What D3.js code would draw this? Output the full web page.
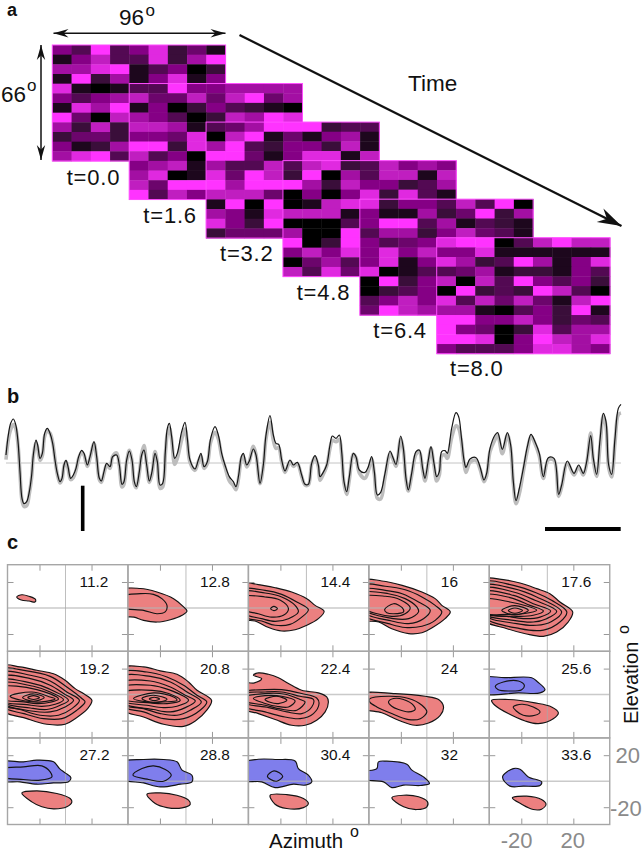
<!DOCTYPE html>
<html><head><meta charset="utf-8">
<script src="https://cdn.jsdelivr.net/npm/d3@7/dist/d3.min.js"></script>
<style>html,body{margin:0;padding:0;background:#fff}svg{display:block}text{font-family:"Liberation Sans",Arial,sans-serif;fill:#111}</style>
</head><body><svg id="c" width="644" height="853"></svg>
<script>
// ---------- panel a: stimulus frames (0 dark .. 9 bright, null = covered by next frame)
const frameTimes=["t=0.0","t=1.6","t=3.2","t=4.8","t=6.4","t=8.0"];
const _=null;
const frame0=[[5,3,9,3,5,8,2,4,1],[1,5,7,3,3,8,2,6,9],[6,6,8,9,1,3,5,0,2],[1,9,2,6,1,5,8,1,5],[8,1,0,1,_,_,_,_,_],[5,3,5,6,_,_,_,_,_],[1,8,6,9,_,_,_,_,_],[9,4,0,7,_,_,_,_,_],[6,2,7,2,_,_,_,_,_],[2,4,4,2,_,_,_,_,_],[5,1,2,6,_,_,_,_,_],[6,8,9,3,_,_,_,_,_]];
const frame1=[[3,3,9,5,5,6,6,6,6],[7,4,4,7,4,7,9,4,6],[1,5,0,2,5,3,2,1,0],[6,5,3,0,2,7,6,9,8],[7,7,6,1,_,_,_,_,_],[5,5,4,8,_,_,_,_,_],[9,9,2,8,_,_,_,_,_],[7,3,5,0,_,_,_,_,_],[5,6,7,1,_,_,_,_,_],[6,8,0,1,_,_,_,_,_],[7,4,9,9,_,_,_,_,_],[9,3,7,5,_,_,_,_,_]];
const frame2=[[3,4,6,9,9,9,2,3,3],[0,7,9,1,4,1,5,6,1],[6,9,3,2,5,5,2,7,1],[9,9,4,1,5,8,8,1,7],[6,3,3,7,_,_,_,_,_],[8,4,9,7,_,_,_,_,_],[9,6,9,9,_,_,_,_,_],[7,7,7,4,_,_,_,_,_],[1,9,0,9,_,_,_,_,_],[6,5,1,8,_,_,_,_,_],[8,5,2,9,_,_,_,_,_],[2,4,4,4,_,_,_,_,_]];
const frame3=[[3,7,8,2,3,7,5,6,5],[2,9,0,6,3,7,7,1,7],[9,6,2,7,5,5,2,3,6],[0,5,0,5,8,2,8,3,1],[0,1,7,8,_,_,_,_,_],[7,7,7,1,_,_,_,_,_],[0,0,0,3,_,_,_,_,_],[6,0,0,9,_,_,_,_,_],[9,0,2,9,_,_,_,_,_],[5,7,5,8,_,_,_,_,_],[0,4,6,3,_,_,_,_,_],[7,3,8,4,_,_,_,_,_]];
const frame4=[[8,2,5,5,3,7,3,9,0],[5,1,1,6,2,4,9,2,6],[5,9,9,3,6,1,3,2,1],[3,6,6,2,5,7,4,3,1],[5,3,4,5,_,_,_,_,_],[5,8,5,7,_,_,_,_,_],[5,8,1,5,_,_,_,_,_],[8,0,1,3,_,_,_,_,_],[0,9,2,5,_,_,_,_,_],[0,2,3,5,_,_,_,_,_],[3,5,7,5,_,_,_,_,_],[4,9,7,6,_,_,_,_,_]];
const frame5=[[8,9,9,0,3,7,9,7,7],[5,5,8,1,1,1,1,1,1],[8,6,2,3,9,6,1,5,8],[3,4,6,1,2,2,1,5,3],[7,0,7,3,9,5,3,5,2],[0,9,2,3,2,9,7,3,0],[8,3,7,4,7,4,1,7,9],[6,6,1,0,3,5,2,9,1],[9,9,5,5,7,5,2,4,3],[9,5,4,0,2,8,3,6,6],[9,9,8,0,5,9,7,6,8],[5,3,3,3,5,8,8,6,5]];
const frames=[frame0,frame1,frame2,frame3,frame4,frame5];

// ---------- panel b: response traces (time, model black, measured grey; arbitrary units)
const traceTime=[18,25,32,40,47,54,60,66,72,80,88,95,100,108,113,120,127,134,142,150,158,165,172,180,186,192,198,204,212,220,228,236,245,252,262,270,282,290,298,304,312,320,330,338,350,358,366,372,380,388,396,403,409,418,425,432,440,448,456,465,472,480,488,496,502,508,515,524,532,545,555,562,570,585,595,603,612,622,632,645,655,665,675,688,700,708,716,724,730,740,748,760,768,780,790,798,810,820,828,836,845,855,870,880,892,905,915,925,935,945,955,960,968,980,990,997,1008,1018,1025,1032,1040,1048,1060,1068,1078,1095,1105,1115,1123,1132,1142,1155,1170,1178,1188,1202,1210,1218,1225,1235,1248,1258,1268,1275,1285,1293,1302,1310,1318,1325,1335,1342,1355,1368,1376,1384,1392,1398,1410,1428,1440,1452,1460,1470,1485,1493,1507,1522,1532,1540,1548,1558,1570,1582,1593,1605,1618,1630,1645,1662,1676,1685,1702,1722,1736,1750,1760,1772,1780,1790,1800,1810,1818,1826,1835,1845,1855,1863];
const traceModel=[24,84,119,132,116,64,-26,-106,-122,-116,-86,-36,24,69,54,14,29,89,104,89,59,9,-31,-56,-46,-6,8,-11,-46,-36,-16,19,38,29,-6,19,64,19,-46,-54,-26,-1,-11,19,24,-6,-64,-56,9,36,9,-56,-71,-26,24,39,-6,-54,-26,29,4,-66,-61,34,104,119,79,14,29,94,122,74,9,-18,9,29,-11,4,74,109,84,29,-6,-41,-56,-71,-36,19,29,-6,6,42,24,-61,-6,84,142,84,59,56,9,-24,9,-6,2,-36,-64,-64,-1,22,-6,-41,-31,-6,54,81,74,84,34,-56,-86,-41,29,19,-21,-28,-11,19,-26,-96,-88,-31,36,19,-4,81,44,-46,-81,-31,34,39,-16,-46,9,49,-1,-41,-26,34,37,29,104,151,139,79,9,-13,12,16,-11,-51,-31,44,84,91,41,91,54,-56,-113,-76,-16,49,86,64,29,-41,16,14,-94,-66,6,-31,-6,-31,4,82,14,-34,69,149,124,-6,-34,74,164,176];
const traceMeasured=[10,70,100,115,105,55,-30,-112,-130,-128,-92,-42,20,60,45,8,22,80,96,90,62,12,-34,-60,-50,-10,4,-16,-50,-44,-22,14,32,24,-10,14,58,14,-50,-58,-32,-6,-16,20,30,-10,-72,-64,4,38,6,-64,-74,-30,28,52,-6,-58,-34,34,2,-76,-72,26,88,105,70,-4,14,70,102,62,2,-22,4,20,-16,-2,62,92,72,20,-12,-54,-68,-80,-44,12,22,-12,4,50,26,-62,-10,72,122,68,44,46,4,-28,4,-10,-2,-40,-66,-66,-4,18,-12,-52,-38,-10,44,68,64,70,26,-62,-94,-50,26,16,-30,-46,-24,12,-34,-106,-108,-44,28,14,-10,72,38,-52,-84,-38,26,34,-22,-54,2,44,-8,-54,-36,22,24,14,76,112,104,66,0,-28,2,8,-18,-56,-38,34,70,84,28,84,44,-62,-122,-92,-26,38,80,58,20,-46,10,8,-100,-72,0,-36,-12,-36,-2,90,6,-40,50,142,110,-14,-42,60,145,150];

// ---------- panel c: contours per time lag, [sign, [[azimuth,elevation],...]]
const azTicks=[-20,20], elTicks=[-20,20];
const lagLabels=["11.2","12.8","14.4","16","17.6","19.2","20.8","22.4","24","25.6","27.2","28.8","30.4","32","33.6"];
const lag112=[["+",[[-37.5,8.5],[-33.5,10.2],[-28,9],[-23,6.6],[-23.5,4.6],[-28,5.4],[-34,6.2]]]];
const lag128=[["+",[[-50,13.6],[-35,15],[-22.3,12.3],[-9.5,7.2],[-1.8,.8],[.8,-2.3],[-3,-5.6],[-12,-9],[-22.3,-10.8],[-32.6,-9.5],[-40,-7],[-50,-5.6]]],
 ["+",[[-50,8.5],[-35,11],[-25,10.5],[-18.5,7.2],[-14.6,2],[-16,-3],[-22.3,-4.4],[-32.6,-1.8],[-50,.8]]]];
const lag144=[["+",[[-50,18.7],[-37,18],[-24,15.6],[-11.3,12.3],[.3,7.2],[6.7,2],[13.6,-2.6],[9.2,-8.2],[.3,-13.3],[-8.7,-16.7],[-19,-17.7],[-29,-15],[-39.5,-10],[-50,-8.2]]],
 ["+",[[-50,14],[-31.8,13.6],[-19,10.5],[-7.4,4.6],[1.5,-1.3],[-3.6,-7],[-12.6,-12.6],[-24,-13.3],[-34.4,-10],[-50,-5.6]]],
 ["+",[[-50,12.3],[-31.8,11.5],[-19,8.5],[-8.7,2],[-6.2,-3],[-13.8,-8.2],[-24,-10.3],[-34.4,-8.2],[-50,-3]]],
 ["+",[[-50,8.5],[-31.8,8.5],[-20,6],[-13.8,-.5],[-17.7,-5.6],[-26.7,-7],[-37,-4.4],[-50,-.5]]],
 ["+",[[-27.5,-.5],[-25,1.2],[-22.3,-.5],[-25,-2]]]];
const lag16=[["+",[[-50,21],[-34.6,20.8],[-19,17.4],[-3.8,12.3],[6.4,7.2],[11.5,2],[18,-3],[14,-8.2],[5,-14.6],[-3.8,-19],[-14,-19.7],[-27,-16],[-37,-10.8],[-50,-8.2]]],
 ["+",[[-50,17.4],[-32,16.7],[-16.7,14],[-3.8,8.5],[6.4,2],[11.5,-3],[6.4,-9.5],[-3.8,-14],[-16.7,-15],[-29.5,-12],[-50,-4.9]]],
 ["+",[[-50,14],[-32,13.6],[-19,11],[-6.4,4.6],[2.6,-1.8],[-2.6,-8.2],[-14,-12],[-27,-10],[-50,-2.3]]],
 ["+",[[-50,11.5],[-29.5,11],[-16.7,7.2],[-7.7,.8],[-6.4,-3],[-14,-8.2],[-25.6,-8.2],[-50,-.5]]],
 ["+",[[-50,8.5],[-32,9],[-20.5,6.4],[-12.8,.2],[-16.7,-4.4],[-27,-6.4],[-50,.8]]],
 ["+",[[-32.5,-1.3],[-25.6,3.3],[-19,.2],[-17.9,-3],[-25.6,-4.4],[-30.8,-3.6]]]];
const lag176=[["+",[[-50,21.8],[-33.8,21.8],[-21,19.2],[-8.2,14.9],[2,11],[9.7,4.6],[19.5,-3],[16,-10.8],[7.2,-18.5],[-3,-21.8],[-16,-20],[-31,-15.9],[-50,-8.2]]],
 ["+",[[-50,19.5],[-26,17.4],[-8.2,11.5],[3.3,5.9],[15,-3],[9.7,-10.8],[-3,-17],[-21,-15.9],[-50,-5.6]]],
 ["+",[[-50,17],[-26,14.9],[-8.2,8.5],[11,-3],[3.3,-10.3],[-8.2,-13.3],[-23.6,-12],[-50,-4.4]]],
 ["+",[[-50,14.9],[-26,12.3],[-9.5,5.9],[7.2,-2.6],[-.5,-8.2],[-10.8,-10.8],[-26,-9.5],[-50,-3.6]]],
 ["+",[[-50,12.3],[-26,9.7],[-10.8,3.3],[2.6,-2.3],[-5.6,-7],[-18.5,-8.2],[-31,-6.4],[-50,-3]]],
 ["+",[[-50,9.7],[-28.7,8],[-13.3,2],[-3,-2.3],[-10.8,-5.6],[-23.6,-6.4],[-50,-3.3]]],
 ["+",[[-50,6.4],[-28.7,4.6],[-8.2,-1.8],[-18.5,-4.4],[-31,-4.9],[-50,-3.6]]],
 ["+",[[-35,-1.8],[-25,1.8],[-14.6,-1.8],[-25,-5.4]]],
 ["+",[[-30,-2],[-25,0],[-19,-2],[-25,-4]]]];
const lag192=[["+",[[-50,21.8],[-35,21.3],[-22,18.7],[-9.2,16],[-.3,11],[7.4,4.6],[13.8,.8],[20.3,-4.4],[17,-10.8],[7.4,-18.5],[-.3,-22.8],[-14.4,-22.8],[-29.7,-18.5],[-50,-10.8]]],
 ["+",[[-50,19.2],[-29.7,18.2],[-11.8,14],[1,5.9],[12.6,-3],[15,-5.6],[8.7,-12],[-2.8,-18.5],[-16.9,-18.5],[-32,-14.6],[-50,-8.2]]],
 ["+",[[-50,16.7],[-27,14.9],[-11.8,10.5],[1,2],[10.7,-4.4],[4.9,-10.8],[-5.4,-15.9],[-19.5,-15.9],[-34.9,-11.5],[-50,-6.9]]],
 ["+",[[-50,13.6],[-27,12.3],[-11.8,7.2],[-1.5,.8],[6.2,-4.4],[-.3,-9.5],[-11.8,-13.3],[-24.6,-12.8],[-50,-5.6]]],
 ["+",[[-50,11],[-27,9],[-13,4.6],[2.3,-4.4],[-4.1,-8.2],[-14.4,-11.5],[-27,-10.3],[-50,-4.9]]],
 ["+",[[-50,8.5],[-24.6,6.4],[-11.8,2],[-1.5,-3.9],[-8,-7.4],[-18.2,-9],[-29.7,-7.7],[-50,-4.4]]],
 ["+",[[-50,5.4],[-22,3.8],[-5.4,-3.3],[-11.8,-5.9],[-22,-6.9],[-32,-5.6],[-50,-3]]],
 ["+",[[-42.6,-1.3],[-25.9,2],[-11.8,-1.8],[-8,-3.3],[-18.2,-5.6],[-31,-4.9]]],
 ["+",[[-33,-2.3],[-24.6,.5],[-16.4,-2.3],[-24.6,-5.1]]],
 ["+",[[-29,-2.3],[-24.6,-.8],[-20,-2.3],[-24.6,-3.8]]]];
const lag208=[["+",[[-50,19.9],[-32.6,21.3],[-19.7,18.2],[-6.9,15.6],[2,9.7],[8.5,3.3],[19.7,-4.4],[16,-12],[7.2,-20.3],[-1.8,-24.4],[-17.2,-22.8],[-32.6,-17.2],[-50,-10.8]]],
 ["+",[[-50,16.7],[-30,17.4],[-14.6,13.6],[-1.8,7.2],[8.5,-.5],[16,-5.6],[10.9,-12],[-1.8,-18.5],[-17.2,-18.5],[-32.6,-13.3],[-50,-8.2]]],
 ["+",[[-50,13.6],[-27.4,14],[-12,9.7],[.8,2],[11.8,-5.6],[3.3,-12],[-6.9,-15.9],[-19.7,-14.6],[-32.6,-10.8],[-50,-6.9]]],
 ["+",[[-50,9],[-27.4,10.5],[-12,5.9],[-.5,-.5],[7.2,-4.9],[-.5,-10],[-12,-13.3],[-24.9,-11.5],[-50,-5.6]]],
 ["+",[[-50,5.4],[-27.4,7.2],[-13.3,3.8],[2,-4.4],[-6.9,-9],[-17.2,-10],[-30,-8.2],[-50,-4.4]]],
 ["+",[[-50,1.3],[-26,3.3],[-13.3,.8],[-4.4,-4.4],[-14.6,-6.9],[-27.4,-6.4],[-50,-3]]],
 ["+",[[-40.3,-3],[-24.9,1.3],[-9.5,-1.8],[-6.9,-4.4],[-17.2,-5.6],[-30,-5.6]]],
 ["+",[[-33.8,-3],[-24.9,-.5],[-14.6,-3.6],[-24.9,-6.2]]],
 ["+",[[-28.2,-3.3],[-24.4,-2],[-20.3,-3.3],[-24.4,-4.6]]]];
const lag224=[["+",[[-50,8.5],[-40,9],[-34.4,12.3],[-40.8,14.9],[-36.9,16.7],[-29.2,15.6],[-21.5,13],[-13.8,8.5],[-3.6,3.3],[9.2,1.3],[15.6,-1.8],[16.9,-5.6],[14.4,-13.3],[7.9,-19.7],[-1,-23.6],[-11.3,-23.6],[-24,-19.2],[-36.9,-14.6],[-50,-10]]],
 ["+",[[-50,1.3],[-31.8,3.8],[-19,3.8],[-3.6,.8],[7.9,-2.6],[9.7,-6.9],[5.4,-14.6],[-4.9,-18.5],[-19,-16.7],[-31.8,-13.3],[-50,-8.2]]],
 ["+",[[-50,.3],[-31.8,2],[-19,2],[-4.9,-1.3],[5.4,-3.8],[4.1,-9.5],[-3.6,-14.6],[-15,-13.3],[-29,-10],[-50,-5.6]]],
 ["+",[[-50,-2.3],[-31.8,.8],[-16.4,.3],[-4.9,-3.8],[-1,-5.6],[-7.4,-12],[-17.7,-11.5],[-31.8,-8.2],[-50,-4.5]]],
 ["+",[[-40.8,-3],[-31.8,-.8],[-19,-1.3],[-8.7,-4.9],[-13.8,-9.5],[-22.8,-9],[-33,-6.4]]],
 ["+",[[-31.8,-3.8],[-22.8,-1.3],[-15,-4.4],[-21.5,-6.9],[-28,-5.9]]]];
const lag24=[["+",[[-50,.3],[-24.4,.8],[-1.3,-1.3],[9,-3.8],[12.8,-9.5],[10.3,-15.9],[1.3,-21.8],[-9,-23.6],[-21.8,-19.7],[-34.6,-14],[-50,-10]]],
 ["+",[[-44,-3.3],[-29.5,-1.3],[-14,-3],[-3.8,-8.2],[0,-13.3],[-5,-18.5],[-14,-19.2],[-27,-14.6],[-38.5,-9.5],[-44,-5.6]]],
 ["+",[[-29.5,-5.6],[-25.6,-3],[-18,-3.8],[-10.3,-8.2],[-9,-11.5],[-14,-13.3],[-21.8,-11.5],[-27,-9]]]];
const lag256=[["-",[[-50,12.8],[-32.6,13],[-12,13],[-7.4,9.7],[-1.8,3.8],[-5.6,1.3],[-22.3,1.3],[-50,1.3]]],
 ["-",[[-40,6.4],[-33.8,9.7],[-22.3,10.5],[-17.7,7.2],[-19.7,3.8],[-30,2.8],[-37.7,3.8]]],
 ["+",[[-42.8,-4.4],[-30,-3.8],[-9.5,-6.4],[3.3,-9.5],[8.5,-14],[4.6,-18.5],[-7,-22.3],[-17,-20.3],[-30,-14.6],[-40.3,-8.2]]],
 ["+",[[-26.2,-9.5],[-19.7,-7.4],[-10.8,-9.5],[-5.6,-13.3],[-9.5,-15.9],[-18.5,-15.9],[-23.6,-12.8]]]];
const lag272=[["-",[[-50,14.4],[-32.3,14.9],[-22,16.2],[-9.2,14.9],[-4.6,9.7],[-.3,6.4],[4.1,2.8],[2.3,-.5],[-9.2,-1.3],[-22,-2.3],[-35,-.5],[-50,.8]]],
 ["-",[[-50,9],[-32.3,11],[-18.2,11.8],[-11.8,7.2],[-10.5,3.3],[-19.5,.8],[-32.3,1.3],[-50,3.8]]],
 ["+",[[-33.6,-9],[-22,-7.4],[-6.7,-9.5],[3.6,-13.3],[4.9,-15.9],[1,-19.7],[-9.2,-21.3],[-18.2,-19.7],[-25.9,-15.9]]]];
const lag288=[["-",[[-50,14.4],[-32.6,16.7],[-17.2,16.7],[-6.9,14.9],[-3,8.5],[4.6,4.6],[4.6,-.5],[-4.4,-2.3],[-19.7,-4.4],[-32.6,-1.3],[-50,2]]],
 ["-",[[-40.8,4.6],[-33.8,9.7],[-24.9,11.8],[-15.9,9],[-11.3,4.6],[-17.2,0],[-28.7,1.3]]],
 ["+",[[-30,-10],[-19.7,-9],[-6.9,-10.8],[2,-14.6],[3.3,-17.7],[-3,-20.5],[-14.6,-20.3],[-23.6,-17.2]]]];
const lag304=[["-",[[-50,13.6],[-37,16.9],[-22.8,16.7],[-8.7,15.6],[-6.2,9.7],[1.5,4.6],[4.1,-.5],[-1,-3],[-10,-2.3],[-24.1,-4.9],[-34.4,-.5],[-50,.8]]],
 ["-",[[-30,3.8],[-24.9,7.9],[-18.2,3.8],[-22.8,0],[-27.4,1.3]]],
 ["+",[[-27.9,-10.8],[-15.1,-10.3],[-2.3,-13.3],[1.5,-17.2],[-2.3,-20.3],[-15.1,-21],[-24.1,-17.7]]]];
const lag32=[["-",[[-50,6.7],[-38.5,9.7],[-37.2,14.9],[-30.8,15.4],[-15.4,13],[-11.5,8.5],[-2.6,3.3],[2,-1.8],[-5.1,-3.3],[-17.9,-3],[-26.9,-4.9],[-33.3,-.5],[-50,2]]],
 ["+",[[-26.9,-12.6],[-17.9,-10.8],[-6.4,-12],[.5,-15.9],[0,-19.7],[-7.7,-21.8],[-17.9,-19.7]]]];
const lag336=[["-",[[-34.4,3.3],[-26.2,9.7],[-21,9.2],[-14.6,3.3],[-4.4,-.5],[-5.6,-3.3],[-18.5,-3.8],[-28.7,-3.8]]],
 ["+",[[-26.9,-12.8],[-15.9,-11.5],[-4.4,-14.1],[-1,-17.7],[-4.4,-21.5],[-10.8,-21.8],[-19.7,-17.7]]]];
const lagContours=[lag112,lag128,lag144,lag16,lag176,lag192,lag208,lag224,lag24,lag256,lag272,lag288,lag304,lag32,lag336];

// ---------- drawing
const svg=d3.select("#c");
const txt=(x,y,s,size,o={})=>svg.append("text").attr("x",x).attr("y",y).attr("font-size",size).attr("font-weight",o.w||null).attr("fill",o.f||"#111").attr("letter-spacing",o.ls||null).attr("transform",o.t||null).style("fill",o.f||"#111").text(s);

// panel a
const heat=d3.scaleLinear().domain([0,2,5,7,9]).range(["#000000","#3a0e3a","#850085","#c01ec0","#ff33ff"]);
const tIndex=d3.scaleLinear().domain([0,5]);
const fx=tIndex.copy().range([52.3,436.7]), fy=tIndex.copy().range([45,237.7]);
const colB=d3.scaleBand().domain(d3.range(9)).range([0,173.3]);
const rowB=d3.scaleBand().domain(d3.range(12)).range([0,116]);
frames.forEach((fr,i)=>{
  const g=svg.append("g").attr("transform",`translate(${fx(i)},${fy(i)})`);
  g.selectAll("g").data(fr).join("g").attr("transform",(d,r)=>`translate(0,${rowB(r)})`)
   .selectAll("rect").data(d=>d).join("rect").filter(d=>d!==null)
   .attr("x",(d,c)=>colB(c)).attr("width",colB.bandwidth()+.4).attr("height",rowB.bandwidth()+.4)
   .attr("fill",d=>heat(d));
  g.append("rect").attr("width",173.3).attr("height",116).attr("fill","none").attr("stroke","#ff4dff").attr("stroke-width",1);
});
const labelX=tIndex.copy().range([66.7,450]), labelY=tIndex.copy().range([185,376]);
frameTimes.forEach((s,i)=>txt(labelX(i),labelY(i),s,22,{ls:"0.8px"}));

function arrow(x1,y1,x2,y2,w,len,hw,both){
  svg.append("line").attr("x1",x1).attr("y1",y1).attr("x2",x2).attr("y2",y2).attr("stroke","#111").attr("stroke-width",w);
  const head=(x,y,a)=>svg.append("path").attr("d",`M0,0L${-len},${-hw}L${-len*.68},0L${-len},${hw}Z`).attr("transform",`translate(${x},${y}) rotate(${a})`).attr("fill","#111");
  const a=Math.atan2(y2-y1,x2-x1)*180/Math.PI;
  head(x2,y2,a); if(both) head(x1,y1,a+180);
}
arrow(53.5,33.3,225.5,33.3,1.5,15,4.2,true);
arrow(41,45,41,160,1.5,15,4.2,true);
arrow(239.5,35,621.5,226,2.4,24,7.5,false);
txt(7,16.4,"a",18,{w:"bold"});
txt(119,25,"96",22.5); txt(145.5,15.5,"o",17);
txt(1,102,"66",22.5); txt(27,91,"o",17);
txt(408,91,"Time",22.5);

// panel b
const tx=d3.scaleLinear().domain([0,1932]).range([0,644]);
const ty=d3.scaleLinear().domain([-150,180]).range([513,403]);
txt(7,403,"b",20,{w:"bold"});
svg.append("line").attr("x1",tx(18)).attr("x2",tx(1863)).attr("y1",ty(0)).attr("y2",ty(0)).attr("stroke","#c4c4c4").attr("stroke-width",1);
const line=d3.line().x((d,i)=>tx(traceTime[i])).y(d=>ty(d)).curve(d3.curveCatmullRom.alpha(.5));
svg.append("path").attr("d",line(traceMeasured)).attr("fill","none").attr("stroke","#bdbdbd").attr("stroke-width",3.6).attr("stroke-linejoin","round");
svg.append("path").attr("d",line(traceModel)).attr("fill","none").attr("stroke","#161616").attr("stroke-width",1.2);
svg.append("line").attr("x1",82.7).attr("x2",82.7).attr("y1",485.7).attr("y2",531).attr("stroke","#000").attr("stroke-width",3.6);
svg.append("line").attr("x1",545).attr("x2",620.7).attr("y1",529).attr("y2",529).attr("stroke","#000").attr("stroke-width",4);

// panel c
txt(7,549,"c",20,{w:"bold"});
const panelW=120.45, panelH=86.6, gridL=7.5, gridT=564.7;
const az=d3.scaleLinear().domain([-44.6,48]).range([0,panelW]);
const el=d3.scaleLinear().domain([-33.3,33.3]).range([panelH,0]);
const fillOf=d3.scaleOrdinal().domain(["+","-"]).range(["#ec8080","#7f7eec"]);
const closed=d3.line().x(d=>az(d[0])).y(d=>el(d[1])).curve(d3.curveCatmullRomClosed.alpha(.5));
const defs=svg.append("defs");
defs.append("clipPath").attr("id","pc").append("rect").attr("width",panelW).attr("height",panelH);
lagContours.forEach((cs,i)=>{
  const col=i%5,row=Math.floor(i/5);
  const g=svg.append("g").attr("transform",`translate(${gridL+col*panelW},${gridT+row*panelH})`);
  const inner=g.append("g").attr("clip-path","url(#pc)");
  inner.selectAll("path.f").data(cs).join("path").attr("class","f").attr("d",d=>closed(d[1])).attr("fill",d=>fillOf(d[0]));
  inner.append("line").attr("x1",0).attr("x2",panelW).attr("y1",el(0)).attr("y2",el(0)).attr("stroke","#b4b4b4").attr("stroke-width",1.5).attr("opacity",.7);
  inner.append("line").attr("x1",az(0)).attr("x2",az(0)).attr("y1",0).attr("y2",panelH).attr("stroke","#a8a8a8").attr("stroke-width",1).attr("opacity",.75);
  inner.selectAll("path.s").data(cs).join("path").attr("class","s").attr("d",d=>closed(d[1])).attr("fill","none").attr("stroke","#141414").attr("stroke-width",1.15);
  const ax=(gen,tr)=>{const a=g.append("g").attr("transform",tr).call(gen.tickSize(-6).tickFormat(""));a.select(".domain").remove();a.selectAll("line").attr("stroke","#999").attr("stroke-width",1);};
  ax(d3.axisTop(az).tickValues(azTicks),"translate(0,0)");
  ax(d3.axisBottom(az).tickValues(azTicks),`translate(0,${panelH})`);
  ax(d3.axisLeft(el).tickValues(elTicks),"translate(0,0)");
  ax(d3.axisRight(el).tickValues(elTicks),`translate(${panelW},0)`);
  g.append("rect").attr("width",panelW).attr("height",panelH).attr("fill","none").attr("stroke","#a6a6a6").attr("stroke-width",1.4);
  g.append("text").attr("x",72).attr("y",22.6).attr("font-size",15.4).style("fill","#111").text(lagLabels[i]);
});
const grey="#8a8a8a";
txt(615.5,763,"20",22,{f:grey});
txt(610,816,"-20",22,{f:grey});
svg.append("text").attr("x",516.7).attr("y",848).attr("text-anchor","middle").attr("font-size",22).style("fill",grey).text("-20");
svg.append("text").attr("x",572.7).attr("y",848).attr("text-anchor","middle").attr("font-size",22).style("fill",grey).text("20");
txt(269,848,"Azimuth",20.5); txt(350,837,"o",16);
txt(0,0,"Elevation",20,{t:"translate(638,724) rotate(-90)"});
txt(0,0,"o",16,{t:"translate(629,634) rotate(-90)"});
</script></body></html>
